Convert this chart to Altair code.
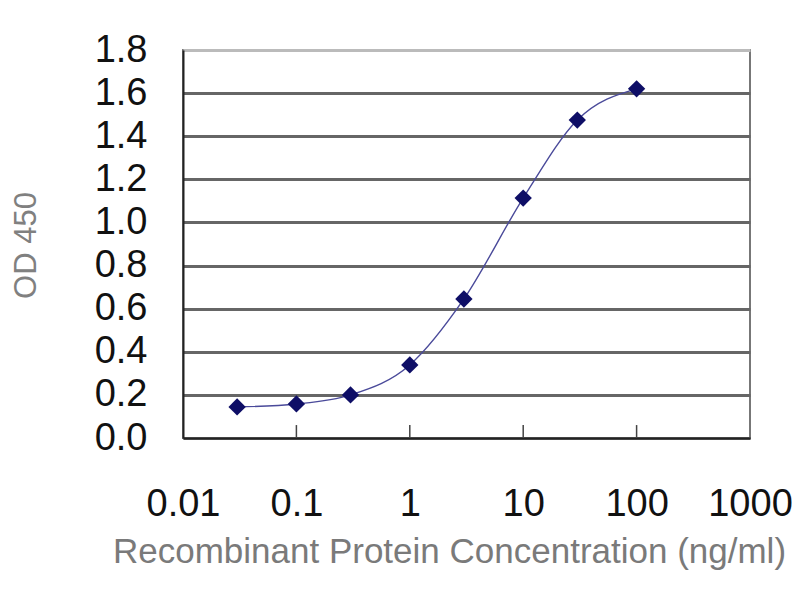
import altair as alt
import pandas as pd

conc = [0.03, 0.1, 0.3, 1, 3, 10, 30, 100]
od = [0.144, 0.158, 0.200, 0.339, 0.645, 1.113, 1.475, 1.620]
x_ticks = [0.01, 0.1, 1, 10, 100, 1000]
inner_ticks = [0.1, 1, 10, 100]
y_ticks = [0.0, 0.2, 0.4, 0.6, 0.8, 1.0, 1.2, 1.4, 1.6, 1.8]

df = pd.DataFrame({"conc": conc, "od": od})
tick_df = pd.DataFrame({"t": inner_ticks, "y0": [0.0] * 4, "y1": [0.06] * 4})

FONT = "Liberation Sans"

xscale = alt.Scale(type="log", domain=[0.01, 1000], nice=False)
yscale = alt.Scale(domain=[0, 1.8], nice=False)

xaxis = alt.Axis(
    values=x_ticks, format="~g", grid=False, ticks=False,
    labelFontSize=38, labelFont=FONT, labelColor="#111", labelPadding=77,
    labelBaseline="alphabetic", labelFlush=False, labelOverlap=False,
    domain=True, domainColor="#222", domainWidth=2,
    title="Recombinant Protein Concentration (ng/ml)",
    titleFont=FONT, titleFontSize=35, titleFontWeight="normal", titleColor="#7a7a7a",
    titleX=266, titleY=124, titleAlign="center", titleBaseline="alphabetic",
)

yaxis = alt.Axis(
    values=y_ticks, format=".1f", grid=True,
    gridColor={"condition": {"test": "datum.value >= 1.79", "value": "#bbbbbb"}, "value": "#666666"},
    gridWidth=3, ticks=False,
    labelFontSize=38, labelFont=FONT, labelColor="#111", labelPadding=36,
    labelBaseline="middle",
    domain=True, domainColor="#222", domainWidth=2,
    title="OD 450", titleFont=FONT, titleFontSize=31, titleFontWeight="normal",
    titleColor="#808080", titleX=-157, titleY=195, titleAngle=270,
    titleAlign="center", titleBaseline="middle",
)

base = alt.Chart(df)

line = base.mark_line(color="#4a4a9a", strokeWidth=1.4, interpolate="monotone").encode(
    x=alt.X("conc:Q", scale=xscale, axis=xaxis),
    y=alt.Y("od:Q", scale=yscale, axis=yaxis),
)

pts = base.mark_point(shape="diamond", filled=True, size=300, color="#0e0e66", opacity=1).encode(
    x=alt.X("conc:Q", scale=xscale),
    y=alt.Y("od:Q", scale=yscale),
)

ticks = alt.Chart(tick_df).mark_rule(color="#444", strokeWidth=1.5).encode(
    x=alt.X("t:Q", scale=xscale),
    y=alt.Y("y0:Q", scale=yscale),
    y2="y1:Q",
)

chart = alt.layer(ticks, line, pts).properties(
    width=567, height=388,
    autosize=alt.AutoSizeParams(type="none"),
    padding={"left": 175, "top": 42, "right": 42, "bottom": 150},
    background="white",
).configure_view(stroke="#777", strokeWidth=2)

chart.save("out.html", embed_options={"renderer": "svg", "actions": False})
